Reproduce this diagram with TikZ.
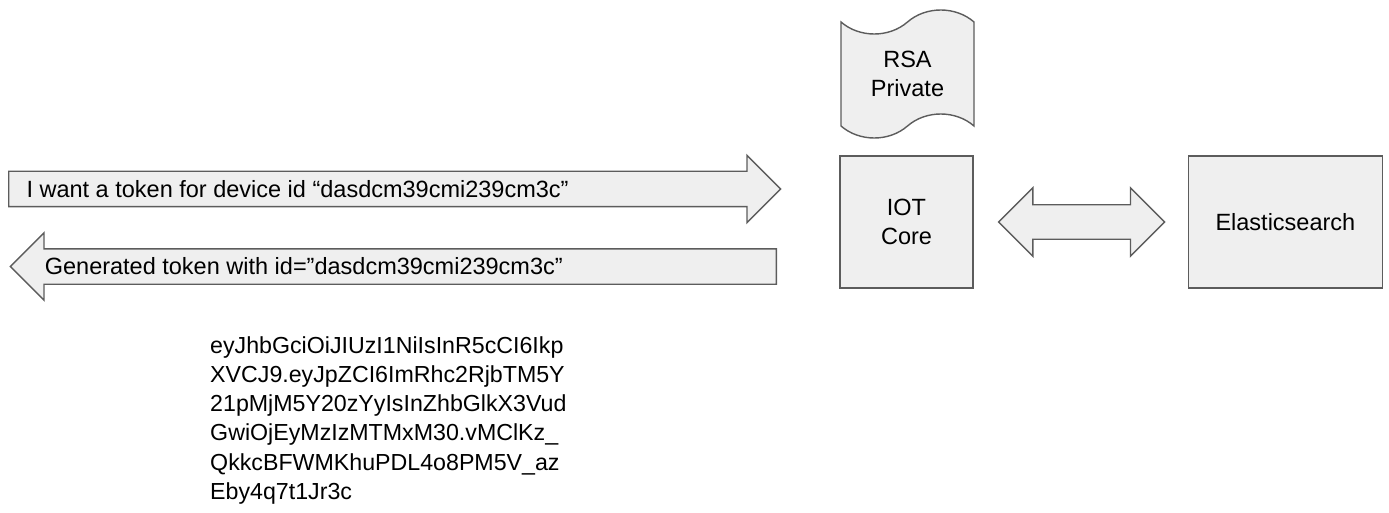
\documentclass[tikz,border=0pt]{standalone}
\usepackage{fontspec}
\setmainfont{Liberation Sans}
\usepackage{tikz}
\usetikzlibrary{shapes.symbols, shapes.arrows, positioning}

\definecolor{boxfill}{HTML}{EFEFEF}
\definecolor{boxline}{HTML}{5C5C5C}

\begin{document}
\begin{tikzpicture}[x=1pt,y=-1pt,
                    every node/.style={font=\fontsize{23.5}{29.5}\selectfont},
                    box node/.style={rectangle,draw=boxline,fill=boxfill,line width=1.4pt,align=center,inner sep=0pt},
                    key node/.style={tape,draw=boxline,fill=boxfill,line width=1.4pt,align=center,inner sep=0pt,tape bend height=24pt},
                    big arrow/.style={single arrow,draw=boxline,fill=boxfill,line width=1.4pt,inner xsep=0pt,inner ysep=17pt,
                                      single arrow head extend=16pt,single arrow tip angle=90},
                    both arrow/.style={double arrow,draw=boxline,fill=boxfill,line width=1.4pt,inner xsep=0pt,inner ysep=16.5pt,
                                       double arrow head extend=17pt,double arrow tip angle=90}]
  \useasboundingbox (0,0) rectangle (1389,513);

  \node[box node, minimum width=133pt, minimum height=132pt] (iot) at (906.5,222) {IOT\\Core};
  \node[box node, minimum width=194pt, minimum height=132pt] (es) [right=214pt of iot] {Elasticsearch};
  \node[key node, minimum width=133pt, minimum height=128pt] (rsa) at (907.5,74) {RSA\\Private};

  \node[both arrow, minimum height=166pt] (sync) [right=24pt of iot] {};

  % request and reply
  \node[big arrow, anchor=tail, minimum height=772pt] (ask) at (8,189) {};
  \node[big arrow, anchor=tail, shape border rotate=180, minimum height=766pt] (reply) at (777,266.5) {};
  \node[anchor=west] (asktext) at ([xshift=15pt]ask.tail) {I want a token for device id “dasdcm39cmi239cm3c”};
  \node[anchor=west] (replytext) at ([xshift=32pt]reply.tip) {Generated token with id=”dasdcm39cmi239cm3c”};

  \node[anchor=north west, align=left, inner sep=0pt, font=\fontsize{23.2}{29.3}\selectfont] (token) at (210,336)
    {eyJhbGciOiJIUzI1NiIsInR5cCI6Ikp\\
     XVCJ9.eyJpZCI6ImRhc2RjbTM5Y\\
     21pMjM5Y20zYyIsInZhbGlkX3Vud\\
     GwiOjEyMzIzMTMxM30.vMClKz\_\\
     QkkcBFWMKhuPDL4o8PM5V\_az\\
     Eby4q7t1Jr3c};
\end{tikzpicture}
\end{document}
